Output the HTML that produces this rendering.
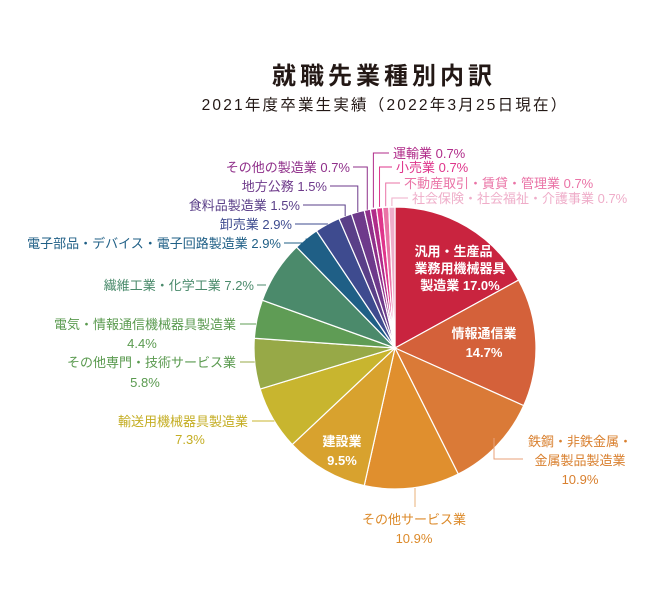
<!DOCTYPE html>
<html><head><meta charset="utf-8">
<style>
html,body{margin:0;padding:0;background:#fff;}
svg text{font-family:"Liberation Sans","Noto Sans CJK JP",sans-serif;}
</style></head>
<body>
<svg id="chart" width="650" height="604" viewBox="0 0 650 604" xmlns="http://www.w3.org/2000/svg">
<text x="384" y="84" text-anchor="middle" font-size="24" font-weight="bold" letter-spacing="4" fill="#231815">就職先業種別内訳</text>
<text x="385" y="110" text-anchor="middle" font-size="15.5" letter-spacing="2.2" fill="#231815">2021年度卒業生実績（2022年3月25日現在）</text>
<g id="slices"></g>
<g id="leaders"></g>
<g id="labels"></g>
</svg>
<script>
const categories = ["汎用・生産品・業務用機械器具製造業","情報通信業","鉄鋼・非鉄金属・金属製品製造業","その他サービス業","建設業","輸送用機械器具製造業","その他専門・技術サービス業","電気・情報通信機械器具製造業","繊維工業・化学工業","電子部品・デバイス・電子回路製造業","卸売業","食料品製造業","地方公務","その他の製造業","運輸業","小売業","不動産取引・賃貸・管理業","社会保険・社会福祉・介護事業"];
const values = [17.0,14.7,10.9,10.9,9.5,7.3,5.8,4.4,7.2,2.9,2.9,1.5,1.5,0.7,0.7,0.7,0.7,0.7];
const valueLabels = ["17.0%","14.7%","10.9%","10.9%","9.5%","7.3%","5.8%","4.4%","7.2%","2.9%","2.9%","1.5%","1.5%","0.7%","0.7%","0.7%","0.7%","0.7%"];
const colors = ["#c9243f","#d4613a","#da7a37","#e08f2e","#d8a22e","#c8b52f","#97a947","#5f9c55","#4b8a6b","#1f5f86","#3e4b8f","#5a3f88","#6e3a8b","#8f2f8a","#b02b89","#df358b","#ea73a6","#efadc9"];

const cx=395, cy=348, R=141;
const NS="http://www.w3.org/2000/svg";
const total = values.reduce((a,b)=>a+b,0);
function angleOf(v){ return v/total*2*Math.PI; }
function pt(a,r){ return [cx+r*Math.sin(a), cy-r*Math.cos(a)]; }
function slug(i){ return "slice-"+(i+1); }

const gS=document.getElementById('slices');
const gL=document.getElementById('leaders');
const gT=document.getElementById('labels');
const mids=[];
let a0=0;
values.forEach((v,i)=>{
  const a1=a0+angleOf(v);
  const p0=pt(a0,R), p1=pt(a1,R);
  const large=(a1-a0)>Math.PI?1:0;
  const p=document.createElementNS(NS,'path');
  p.setAttribute('d',`M${cx},${cy} L${p0[0]},${p0[1]} A${R},${R} 0 ${large} 1 ${p1[0]},${p1[1]} Z`);
  p.setAttribute('fill',colors[i]);
  p.setAttribute('stroke','#fff');
  p.setAttribute('stroke-width','1.2');
  
  
  gS.appendChild(p);
  mids.push((a0+a1)/2);
  a0=a1;
});

function txt(x,y,s,fill,anchor,size,weight,name){
  const t=document.createElementNS(NS,'text');
  t.setAttribute('x',x);t.setAttribute('y',y);
  t.setAttribute('fill',fill);t.setAttribute('text-anchor',anchor);
  t.setAttribute('font-size',size);
  if(weight)t.setAttribute('font-weight',weight);
  t.textContent=s;
  
  
  gT.appendChild(t);
}
function line(pts,color,name){
  const l=document.createElementNS(NS,'polyline');
  l.setAttribute('points',pts.map(p=>p.join(',')).join(' '));
  l.setAttribute('fill','none');l.setAttribute('stroke',color);l.setAttribute('stroke-width','1');
  
  
  gL.appendChild(l);
}

txt(460,256,"汎用・生産品・","#fff","middle",13,"bold","label-machinery");
txt(460,273,"業務用機械器具","#fff","middle",13,"bold","label-machinery");
txt(460,290,"製造業 "+valueLabels[0],"#fff","middle",13,"bold","label-machinery");
txt(484,338,categories[1],"#fff","middle",13,"bold","label-ict");
txt(484,357,valueLabels[1],"#fff","middle",13,"bold","label-ict");
txt(342,446,categories[4],"#fff","middle",13,"bold","label-construction");
txt(342,465,valueLabels[4],"#fff","middle",13,"bold","label-construction");

const topLabels=[ [14,393,158], [15,396,172], [16,404,188], [17,412,203] ];
topLabels.forEach(([i,x,y])=>{
  const e=pt(mids[i],R);
  line([[e[0],e[1]-1],[e[0],y-5],[x-4,y-5]],colors[i],"leader-"+(i+1));
  txt(x,y,categories[i]+" "+valueLabels[i],colors[i],"start",13,null,"label-"+(i+1));
});
const leftTop=[ [13,350,172], [12,327,191], [11,300,210], [10,292,229], [9,281,248] ];
leftTop.forEach(([i,x,y])=>{
  const e=pt(mids[i],R);
  line([[x+3,y-5],[e[0],y-5],[e[0],e[1]]],colors[i],"leader-"+(i+1));
  txt(x,y,categories[i]+" "+valueLabels[i],colors[i],"end",13,null,"label-"+(i+1));
});
const textCol={8:"#4a8a6b",7:"#5a9a4f",6:"#5a9a4f",5:"#c4ad22"};
txt(254,290,categories[8]+" "+valueLabels[8],textCol[8],"end",13,null,"label-9");
line([[257,285],[266,285]],colors[8],"leader-9");
[[7,236,329,142,348],[6,236,367,145,387],[5,248,426,190,444]].forEach(([i,x,y,vx,vy])=>{
  txt(x,y,categories[i],textCol[i],"end",13,null,"label-"+(i+1));
  txt(vx,vy,valueLabels[i],textCol[i],"middle",13,null,"value-"+(i+1));
  const ex=cx-Math.sqrt(R*R-(y-5-cy)*(y-5-cy));
  line([[x+4,y-5],[ex,y-5]],colors[i],"leader-"+(i+1));
});
line([[494,438],[494,459],[523,459]],"#e8a27a","leader-3");
txt(580,446,"鉄鋼・非鉄金属・","#d9802f","middle",13,null,"label-3");
txt(580,465,"金属製品製造業","#d9802f","middle",13,null,"label-3");
txt(580,484,valueLabels[2],"#d9802f","middle",13,null,"value-3");
line([[415,488],[415,507]],"#e9b27a","leader-4");
txt(414,524,categories[3],"#dc8a2a","middle",13,null,"label-4");
txt(414,543,valueLabels[3],"#dc8a2a","middle",13,null,"value-4");
</script>
</body></html>
